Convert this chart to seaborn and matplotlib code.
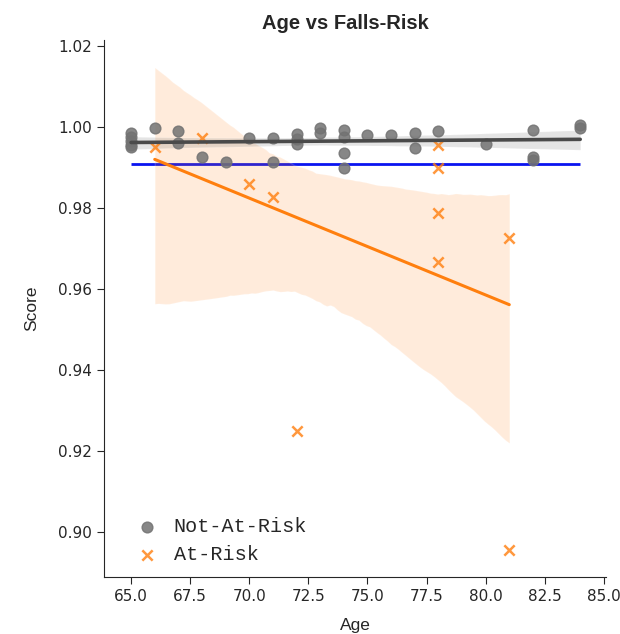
import seaborn as sns
import matplotlib.pyplot as plt
import pandas as pd

# Not-At-Risk group
safe_age = [65, 65, 65, 65, 65, 66, 67, 67, 68, 69, 70, 71, 71, 72, 72, 72,
            73, 73, 74, 74, 74, 74, 75, 76, 77, 77, 78, 80, 82, 82, 82, 84, 84]
safe_score = [0.9985, 0.9975, 0.9965, 0.9955, 0.9950, 0.9997, 0.9990, 0.9960,
              0.9926, 0.9914, 0.9973, 0.9973, 0.9914, 0.9983, 0.9970, 0.9958,
              0.9997, 0.9985, 0.9992, 0.9975, 0.9936, 0.9899, 0.9980, 0.9980,
              0.9985, 0.9948, 0.9990, 0.9958, 0.9993, 0.9926, 0.9920, 1.0005, 0.9997]

# At-Risk group
risk_age = [66, 68, 70, 71, 72, 78, 78, 78, 78, 81, 81]
risk_score = [0.9951, 0.9973, 0.9860, 0.9828, 0.9249, 0.9955, 0.9899, 0.9788,
              0.9667, 0.9727, 0.8956]

threshold = 0.991

safe = pd.DataFrame({"Age": safe_age, "Score": safe_score})
risk = pd.DataFrame({"Age": risk_age, "Score": risk_score})

sns.set_style("ticks")
plt.rcParams['font.family'] = ['DejaVu Sans']

fig = plt.figure(figsize=(6.2, 6.34), dpi=100)
ax = fig.add_axes([0.168, 0.09, 0.809, 0.847])

ax.hlines(threshold, min(safe_age + risk_age), max(safe_age + risk_age),
          color="#0a14f0", lw=2, zorder=1)

sns.regplot(data=risk, x="Age", y="Score", ax=ax, marker="x", color="#ff7f0e",
            seed=3, label="At-Risk",
            scatter_kws={"s": 55, "linewidths": 1.8, "zorder": 3},
            line_kws={"lw": 2.2, "zorder": 2})
sns.regplot(data=safe, x="Age", y="Score", ax=ax, marker="o", color="#727272",
            seed=1, label="Not-At-Risk",
            scatter_kws={"s": 60, "alpha": 0.85, "zorder": 4},
            line_kws={"lw": 2.6, "color": "#4a4a4a", "zorder": 5})

ax.set_xlim(63.86, 85.08)
ax.set_ylim(0.889, 1.0215)
ax.set_xticks([65, 67.5, 70, 72.5, 75, 77.5, 80, 82.5, 85])
ax.set_yticks([0.90, 0.92, 0.94, 0.96, 0.98, 1.00, 1.02])
ax.tick_params(labelsize=11, length=5)
sns.despine(ax=ax)

ax.set_title("Age vs Falls-Risk", fontsize=14.5, fontweight="bold",
             family="Liberation Sans", pad=8, x=0.48)
ax.set_xlabel("Age", fontsize=12.5, family="Liberation Sans", labelpad=10)
ax.set_ylabel("Score", fontsize=12.5, family="Liberation Sans", labelpad=14)

handles, labels = ax.get_legend_handles_labels()
order = [labels.index("Not-At-Risk"), labels.index("At-Risk")]
ax.legend([handles[i] for i in order], [labels[i] for i in order],
          loc="lower left", frameon=False,
          prop={"family": "Liberation Mono", "size": 14.5},
          handletextpad=0.3, borderaxespad=0.25, labelspacing=0.45,
          bbox_to_anchor=(0.02, 0.0))

fig.savefig("out.png", dpi=100)
